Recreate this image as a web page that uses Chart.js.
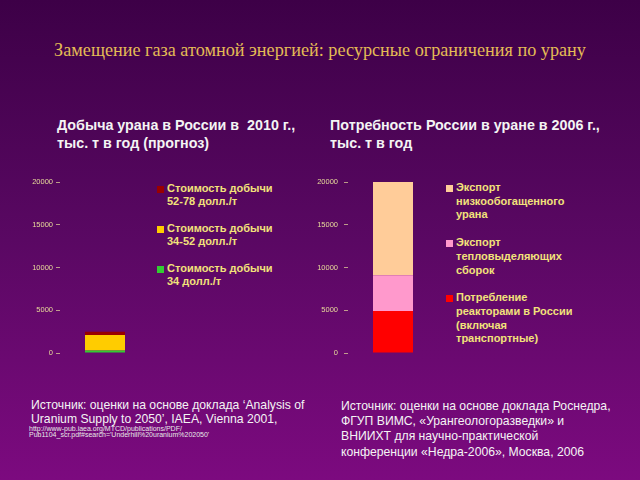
<!DOCTYPE html>
<html>
<head>
<meta charset="utf-8">
<title>Замещение газа атомной энергией</title>
<script src="https://cdn.jsdelivr.net/npm/chart.js@4"></script>
<style>
    html, body {
        margin: 0;
        padding: 0;
    }
    body {
        width: 640px;
        height: 480px;
        position: relative;
        overflow: hidden;
        background: linear-gradient(to bottom, #3d0047 0%, #5a0863 50%, #7c0a7f 100%);
        font-family: "Liberation Sans", Arial, sans-serif;
    }
    .abs { position: absolute; }
    #title {
        left: 0; width: 640px; top: 40px;
        text-align: center;
        font-family: "Liberation Serif", "Times New Roman", serif;
        font-size: 18.2px;
        color: #e3bb55;
    }
    .chart-title {
        top: 117px;
        font-weight: bold;
        font-size: 14.3px;
        line-height: 17.5px;
        color: #f4f4f4;
        white-space: nowrap;
    }
    .chart-box { top: 170px; height: 195px; }
    .legend {
        font-weight: bold;
        color: #f2e27a;
        white-space: nowrap;
    }
    .legend .item { position: relative; }
    .legend .swatch {
        position: absolute;
        width: 7px; height: 7px;
    }
    .source {
        color: #f4f4f4;
        white-space: nowrap;
    }
    .url { font-size: 7px; line-height: 6px; color: #e8e8e8; }
</style>
</head>
<body>

<div id="title" class="abs">Замещение газа атомной энергией: ресурсные ограничения по урану</div>

<div class="abs chart-title" style="left:57px;">Добыча урана в России в&nbsp; 2010 г.,<br>тыс. т в год (прогноз)</div>
<div class="abs chart-title" style="left:330px;">Потребность России в уране в 2006 г.,<br>тыс. т в год</div>

<div class="abs chart-box" style="left:20px; width:130px;"><canvas id="productionChart"></canvas></div>
<div class="abs chart-box" style="left:300px; width:138px;"><canvas id="demandChart"></canvas></div>

<div id="productionLegend" class="abs legend" style="left:157px; top:182px; font-size:11px; line-height:13px;"></div>
<div id="demandLegend" class="abs legend" style="left:446px; top:181px; font-size:11px; line-height:13.7px;"></div>

<div class="abs source" style="left:31px; top:398px; font-size:12.2px; line-height:14px;">
    Источник: оценки на основе доклада ‘Analysis of<br>Uranium Supply to 2050’, IAEA, Vienna 2001,
    <div class="url" style="margin-left:-2px;">http://www-pub.iaea.org/MTCD/publications/PDF/<br>Pub1104_scr.pdf#search='Underhill%20uranium%202050'</div>
</div>
<div class="abs source" style="left:341px; top:399px; font-size:12.2px; line-height:15.2px;">
    Источник: оценки на основе доклада Роснедра,<br>ФГУП ВИМС, «Урангеологоразведки» и<br>ВНИИХТ для научно-практической<br>конференции «Недра-2006», Москва, 2006
</div>

<script>
// ===================================
// Data
// ===================================

// Left chart: uranium production 2010 (forecast), t per year, by cost
const productionLabels = [
    ['Стоимость добычи', '34 долл./т'],
    ['Стоимость добычи', '34-52 долл./т'],
    ['Стоимость добычи', '52-78 долл./т']
];
const productionValues = [300, 1800, 400];
const productionColors = ['#33cc33', '#ffcc00', '#990000'];

// Right chart: uranium demand 2006, t per year
const demandLabels = [
    ['Потребление', 'реакторами в России', '(включая', 'транспортные)'],
    ['Экспорт', 'тепловыделяющих', 'сборок'],
    ['Экспорт', 'низкообогащенного', 'урана']
];
const demandValues = [4900, 4200, 10900];
const demandColors = ['#ff0000', '#ff99cc', '#ffcc99'];

const axisTicks = [0, 5000, 10000, 15000, 20000];
const tickColor = '#e8dc9a';

// ===================================
// Chart builder
// ===================================

function buildChart(canvasId, labels, values, colors, axisWidth, labelPadding) {
    const ctx = document.getElementById(canvasId).getContext('2d');
    return new Chart(ctx, {
        type: 'bar',
        data: {
            labels: [''],
            datasets: values.map((v, i) => ({
                label: labels[i].join(' '),
                data: [v],
                backgroundColor: colors[i],
                borderWidth: 0,
                barPercentage: 40 / 90,
                categoryPercentage: 1
            }))
        },
        options: {
            responsive: true,
            maintainAspectRatio: false,
            animation: false,
            layout: { padding: { top: 12, bottom: 12, left: 0, right: 0 } },
            plugins: {
                legend: { display: false },
                tooltip: { enabled: false }
            },
            scales: {
                x: { stacked: true, display: false },
                y: {
                    stacked: true,
                    min: axisTicks[0],
                    max: axisTicks[axisTicks.length - 1],
                    afterBuildTicks: function(scale) {
                        scale.ticks = axisTicks.map(v => ({ value: v }));
                    },
                    afterFit: function(scale) {
                        scale.width = axisWidth;
                    },
                    ticks: {
                        color: tickColor,
                        font: { family: '"Liberation Sans", Arial, sans-serif', size: 7.5 },
                        padding: labelPadding,
                        callback: function(value) {
                            return String(value);
                        }
                    },
                    grid: {
                        display: true,
                        drawOnChartArea: false,
                        drawTicks: true,
                        tickLength: 4,
                        color: 'rgba(232, 220, 154, 0.7)'
                    },
                    border: { display: false }
                }
            }
        }
    });
}

// ===================================
// HTML legend (top of stack first)
// ===================================

function buildLegend(containerId, labels, colors, gap, swatchTop) {
    const container = document.getElementById(containerId);
    for (let i = labels.length - 1; i >= 0; i--) {
        const item = document.createElement('div');
        item.className = 'item';
        item.style.paddingLeft = '10px';
        if (i !== labels.length - 1) item.style.marginTop = gap + 'px';
        const sw = document.createElement('div');
        sw.className = 'swatch';
        sw.style.left = '0px';
        sw.style.top = swatchTop + 'px';
        sw.style.background = colors[i];
        item.appendChild(sw);
        labels[i].forEach(line => {
            const row = document.createElement('div');
            row.textContent = line;
            item.appendChild(row);
        });
        container.appendChild(item);
    }
}

buildChart('productionChart', productionLabels, productionValues, productionColors, 40, 3);
buildChart('demandChart', demandLabels, demandValues, demandColors, 48, 6);

buildLegend('productionLegend', productionLabels, productionColors, 14, 4);
buildLegend('demandLegend', demandLabels, demandColors, 14, 4);
</script>
</body>
</html>
